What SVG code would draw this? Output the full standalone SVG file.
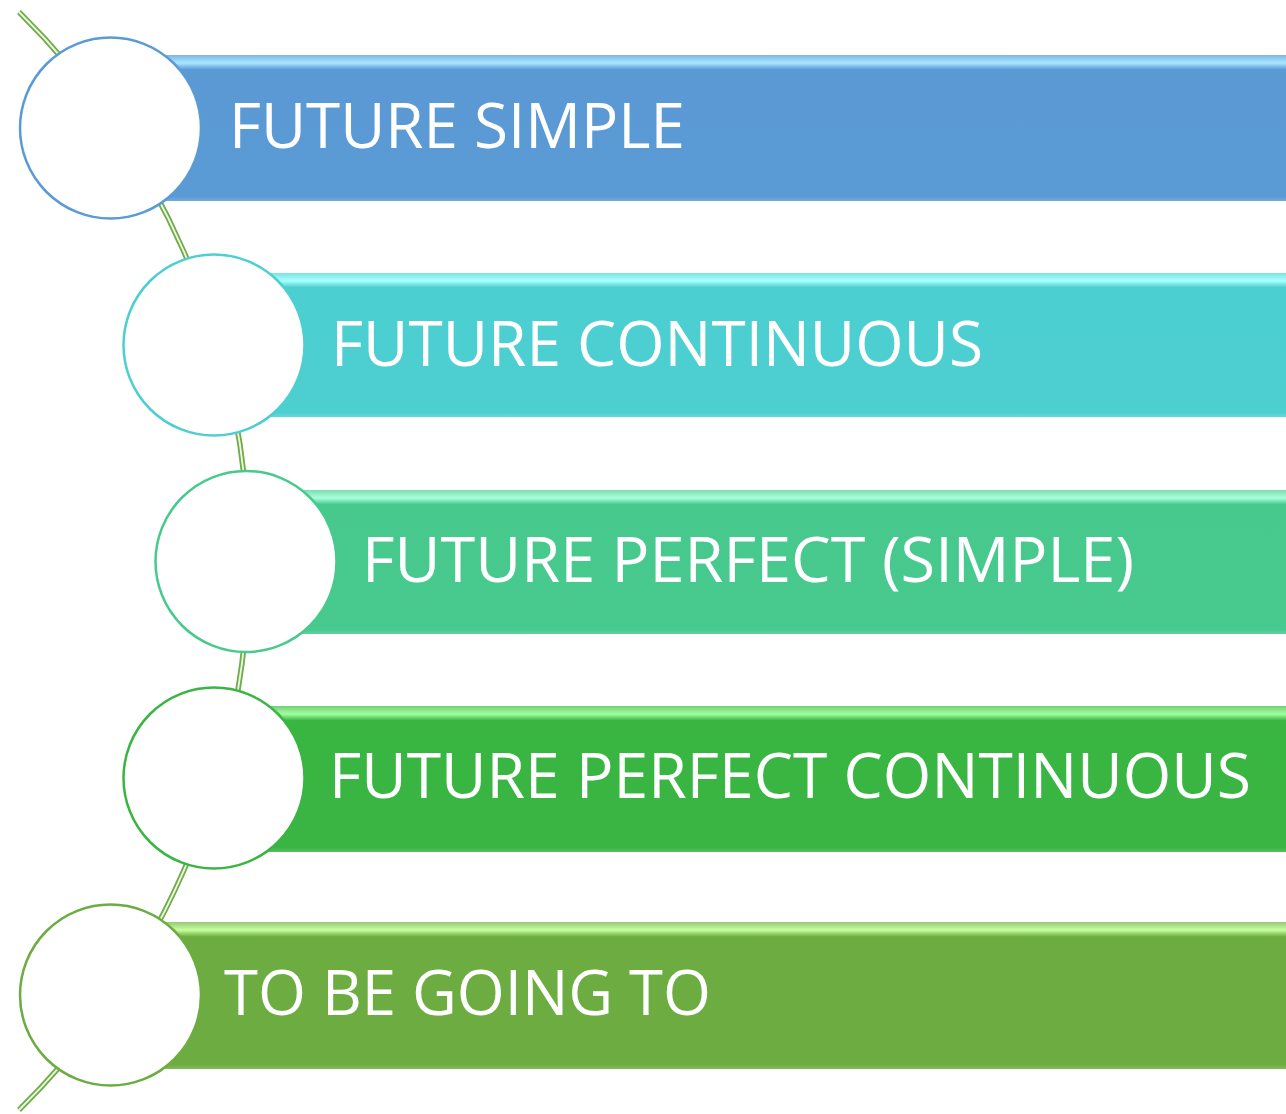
<svg xmlns="http://www.w3.org/2000/svg" width="1286" height="1114" viewBox="0 0 1286 1114">
<style>
.lbl{font-family:"Open Sans","Liberation Sans",sans-serif;font-size:63px;fill:#FFFFFF;}
.arcO{fill:none;stroke:#6FAD47;stroke-width:5.5;}
.arcI{fill:none;stroke:#EEF7E8;stroke-width:1.8;}
.c{fill:#FFFFFF;stroke-width:2.5;}
</style>
<defs>
<linearGradient id="g1" x1="0" y1="0" x2="0" y2="1">
<stop offset="0" stop-color="#7DB6E6"/><stop offset="0.055" stop-color="#A9E6FF"/><stop offset="0.1" stop-color="#5A9AD6"/><stop offset="0.14" stop-color="#5A99D4"/><stop offset="0.97" stop-color="#5B9BD5"/><stop offset="1" stop-color="#70ABDD"/>
</linearGradient>
<linearGradient id="g2" x1="0" y1="0" x2="0" y2="1">
<stop offset="0" stop-color="#7FE2E3"/><stop offset="0.055" stop-color="#A8FFFF"/><stop offset="0.1" stop-color="#4CCFD1"/><stop offset="0.97" stop-color="#4DCFD0"/><stop offset="1" stop-color="#66D8D9"/>
</linearGradient>
<linearGradient id="g3" x1="0" y1="0" x2="0" y2="1">
<stop offset="0" stop-color="#7CDCB0"/><stop offset="0.055" stop-color="#A8FFDB"/><stop offset="0.1" stop-color="#47C98D"/><stop offset="0.97" stop-color="#48C98E"/><stop offset="1" stop-color="#62D2A0"/>
</linearGradient>
<linearGradient id="g4" x1="0" y1="0" x2="0" y2="1">
<stop offset="0" stop-color="#72CF78"/><stop offset="0.055" stop-color="#A2FF9F"/><stop offset="0.1" stop-color="#39B542"/><stop offset="0.97" stop-color="#3AB543"/><stop offset="1" stop-color="#56C15E"/>
</linearGradient>
<linearGradient id="g5" x1="0" y1="0" x2="0" y2="1">
<stop offset="0" stop-color="#98C878"/><stop offset="0.055" stop-color="#C6FF9C"/><stop offset="0.1" stop-color="#6CAC40"/><stop offset="0.97" stop-color="#6DAC40"/><stop offset="1" stop-color="#84BA5E"/>
</linearGradient>
</defs>
<rect width="1286" height="1114" fill="#FFFFFF"/>
<g id="connectors">
<path class="arcO" d="M 19 12 A 771 771 0 0 1 19 1110"/>
<path class="arcI" d="M 19 12 A 771 771 0 0 1 19 1110"/>
</g>
<g id="node1">
<rect x="110" y="55" width="1176" height="146" fill="url(#g1)"/>
<circle class="c" cx="110.5" cy="128" r="90.5" stroke="#5B9BD5"/>
<text class="lbl" x="229" y="148" textLength="456" lengthAdjust="spacingAndGlyphs">FUTURE SIMPLE</text>
</g>
<g id="node2">
<rect x="214" y="273" width="1072" height="144" fill="url(#g2)"/>
<circle class="c" cx="214" cy="345" r="90.5" stroke="#4DCFD0"/>
<text class="lbl" x="331" y="366" textLength="652" lengthAdjust="spacingAndGlyphs">FUTURE CONTINUOUS</text>
</g>
<g id="node3">
<rect x="246" y="490" width="1040" height="144" fill="url(#g3)"/>
<circle class="c" cx="246" cy="561.5" r="90.5" stroke="#48C98E"/>
<text class="lbl" x="362" y="582" textLength="772" lengthAdjust="spacingAndGlyphs">FUTURE PERFECT (SIMPLE)</text>
</g>
<g id="node4">
<rect x="214" y="706" width="1072" height="146" fill="url(#g4)"/>
<circle class="c" cx="214" cy="778" r="90.5" stroke="#3AB543"/>
<text class="lbl" x="329" y="798" textLength="922" lengthAdjust="spacingAndGlyphs">FUTURE PERFECT CONTINUOUS</text>
</g>
<g id="node5">
<rect x="110" y="922" width="1176" height="147" fill="url(#g5)"/>
<circle class="c" cx="110.5" cy="995" r="90.5" stroke="#6DAC40"/>
<text class="lbl" x="224" y="1015" textLength="487" lengthAdjust="spacingAndGlyphs">TO BE GOING TO</text>
</g>
</svg>
